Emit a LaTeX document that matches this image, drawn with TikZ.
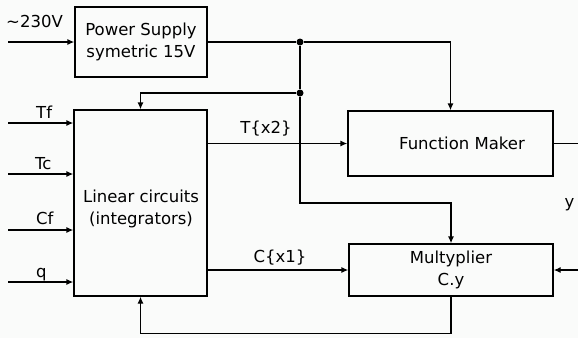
\documentclass[tikz,border=0pt]{standalone}
\usepackage{fontspec}
\setmainfont{DejaVu Sans}
\usetikzlibrary{arrows.meta,calc}
\definecolor{bgcol}{RGB}{250,251,250}
\begin{document}
\begin{tikzpicture}[x=1pt,y=-1pt,
  every node/.style={font=\fontsize{16.5}{22}\selectfont, inner sep=0pt},
  box/.style={draw, line width=1.3pt, fill=none},
  wire/.style={line width=1.3pt},
  arr/.style={line width=1.3pt, -{Latex[length=7pt,width=6pt]}},
  lbl/.style={anchor=base},
  dot/.style={circle, fill, inner sep=0pt, minimum size=7pt}]
\fill[bgcol] (0,0) rectangle (578,338);
\useasboundingbox (0,0) rectangle (578,338);
% boxes
\node[box, minimum width=132pt, minimum height=70pt, align=center] (ps) at (141,42) {Power Supply\\symetric 15V};
\node[box, minimum width=133pt, minimum height=186pt] (lin) at (140.5,203) {};
\node[align=center] (lintext) at (141,209) {Linear circuits\\(integrators)};
\node[box, minimum width=205pt, minimum height=65pt] (fm) at (450.5,143.5) {};
\node (fmtext) at (462,143) {Function Maker};
\node[box, minimum width=204pt, minimum height=52pt, align=center] (mul) at (451,270) {Multyplier\\C.y};
% junctions and free ends
\node[dot] (j1) at (300,42) {};
\node[dot] (j2) at (300,93) {};
\coordinate (inv) at (8,42);
\coordinate (tf) at (8,123);
\coordinate (tc) at (8,174);
\coordinate (cf) at (8,230);
\coordinate (q) at (8,282);
\coordinate (yout) at (578,143.5);
\coordinate (yin) at (578,270);
% labels
\node[lbl, anchor=base west] (l230) at (6,27) {\textasciitilde230V};
\node[lbl, anchor=base west] (ltf) at (36,118) {Tf};
\node[lbl, anchor=base west] (ltc) at (35,169) {Tc};
\node[lbl, anchor=base west] (lcf) at (36,224) {Cf};
\node[lbl, anchor=base west] (lq) at (36,277) {q};
\node[lbl] (ltx) at (266,133) {T\{x2\}};
\node[lbl] (lcx) at (280,262) {C\{x1\}};
\node[lbl] (ly) at (569.5,207) {y};
% connectors
\draw[arr] (inv) -- (inv -| ps.west);
\draw[wire] (ps.east |- j1) -- (j1);
\draw[arr] (j1) -| (fm.north);
\draw[wire] (j1) -- (j2);
\draw[arr] (j2) -| (lin.north);
\draw[arr] (j2) -- ++(0,110) -| (mul.north);
\draw[arr] (tf) -- (tf -| lin.west);
\draw[arr] (tc) -- (tc -| lin.west);
\draw[arr] (cf) -- (cf -| lin.west);
\draw[arr] (q) -- (q -| lin.west);
\draw[arr] (fm.west -| lin.east) -- (fm.west);
\draw[arr] (mul.west -| lin.east) -- (mul.west);
\draw[wire] (fm.east) -- (yout);
\draw[arr] (yin) -- (mul.east);
\draw[arr] (mul.south) -- ++(0,37) -| (lin.south);
\end{tikzpicture}
\end{document}
